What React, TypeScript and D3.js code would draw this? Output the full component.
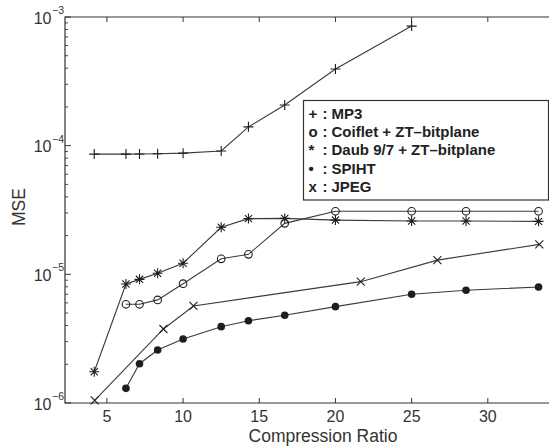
import React from "react";
import * as d3 from "d3";

const mp3X = [4.17, 6.25, 7.14, 8.33, 10, 12.5, 14.29, 16.67, 20, 25];
const mp3Y = [8.6e-5, 8.6e-5, 8.62e-5, 8.65e-5, 8.75e-5, 9.1e-5, 1.4e-4, 2.07e-4, 3.94e-4, 8.5e-4];

const coifX = [6.25, 7.14, 8.33, 10, 12.5, 14.29, 16.67, 20, 25, 28.57, 33.33];
const coifY = [5.85e-6, 5.85e-6, 6.33e-6, 8.46e-6, 1.32e-5, 1.43e-5, 2.49e-5, 3.09e-5, 3.09e-5, 3.09e-5, 3.09e-5];

const daubX = [4.17, 6.25, 7.14, 8.33, 10, 12.5, 14.29, 16.67, 20, 25, 28.57, 33.33];
const daubY = [1.75e-6, 8.41e-6, 9.14e-6, 1.02e-5, 1.22e-5, 2.32e-5, 2.71e-5, 2.72e-5, 2.64e-5, 2.6e-5, 2.6e-5, 2.58e-5];

const spihtX = [6.25, 7.14, 8.33, 10, 12.5, 14.29, 16.67, 20, 25, 28.57, 33.33];
const spihtY = [1.3e-6, 2.02e-6, 2.58e-6, 3.14e-6, 3.92e-6, 4.36e-6, 4.81e-6, 5.61e-6, 7.0e-6, 7.52e-6, 7.98e-6];

const jpegX = [4.2, 8.71, 10.68, 21.66, 26.69, 33.38];
const jpegY = [1.05e-6, 3.76e-6, 5.68e-6, 8.77e-6, 1.29e-5, 1.71e-5];

const xTicks = [5, 10, 15, 20, 25, 30];
const yDecades = [-6, -5, -4, -3];

const legendSymbols = ["+", "o", "*", "\u2022", "x"];
const legendLabels = ["MP3", "Coiflet + ZT\u2013bitplane", "Daub 9/7 + ZT\u2013bitplane", "SPIHT", "JPEG"];

const FONT = "'Liberation Sans', Arial, Helvetica, sans-serif";
const LINE = "#3a3a3a";
const MARK = "#1e1e1e";

const xs = d3.scaleLinear().domain([2.25, 35]).range([65, 564]);
const ys = d3.scaleLog().domain([1e-6, 1e-3]).range([403, 17]);

type Pt = [number, number];

function marker(kind: string, cx: number, cy: number, key: string) {
  const s = 5;
  if (kind === "+") {
    return (
      <path key={key} d={`M${cx - s},${cy}H${cx + s}M${cx},${cy - s}V${cy + s}`} stroke={MARK} strokeWidth={1.1} fill="none" />
    );
  }
  if (kind === "x") {
    const d = 4;
    return (
      <path key={key} d={`M${cx - d},${cy - d}L${cx + d},${cy + d}M${cx - d},${cy + d}L${cx + d},${cy - d}`} stroke={MARK} strokeWidth={1.1} fill="none" />
    );
  }
  if (kind === "*") {
    const d = 3.6;
    return (
      <path key={key} d={`M${cx - s},${cy}H${cx + s}M${cx},${cy - s}V${cy + s}M${cx - d},${cy - d}L${cx + d},${cy + d}M${cx - d},${cy + d}L${cx + d},${cy - d}`} stroke={MARK} strokeWidth={1.1} fill="none" />
    );
  }
  if (kind === "o") {
    return <circle key={key} cx={cx} cy={cy} r={3.8} stroke={MARK} strokeWidth={1.1} fill="none" />;
  }
  return <circle key={key} cx={cx} cy={cy} r={3.8} fill={MARK} />;
}

const series = [
  { xsv: mp3X, ysv: mp3Y, m: "+" },
  { xsv: coifX, ysv: coifY, m: "o" },
  { xsv: daubX, ysv: daubY, m: "*" },
  { xsv: spihtX, ysv: spihtY, m: "." },
  { xsv: jpegX, ysv: jpegY, m: "x" },
];

export default function App() {
  const line = d3
    .line<Pt>()
    .x((d) => xs(d[0]))
    .y((d) => ys(d[1]));

  const minor: number[] = [];
  for (let e = -6; e < -3; e++) {
    for (let k = 2; k <= 9; k++) minor.push(k * Math.pow(10, e));
  }

  const left = 65;
  const right = 549;
  const top = 17;
  const bottom = 403;

  return (
    <svg
      width={549}
      height={447}
      style={{ position: "absolute", left: 0, top: 0, background: "#fff" }}
      fontFamily={FONT}
    >
      <rect x={0} y={0} width={549} height={447} fill="#fff" />
      {/* axes frame */}
      <path d={`M${right},${top}H${left}V${bottom}H${right}`} fill="none" stroke="#333" strokeWidth={1.2} />
      {xTicks.map((t) => (
        <g key={"xt" + t}>
          <line x1={xs(t)} x2={xs(t)} y1={bottom} y2={bottom - 5} stroke="#333" />
          <line x1={xs(t)} x2={xs(t)} y1={top} y2={top + 5} stroke="#333" />
          <text x={xs(t)} y={421.5} textAnchor="middle" fontSize={16} fill="#333">
            {t}
          </text>
        </g>
      ))}
      {minor.map((v, i) => (
        <line key={"ym" + i} x1={left} x2={left + 3} y1={ys(v)} y2={ys(v)} stroke="#333" strokeWidth={0.9} />
      ))}
      {yDecades.map((e) => {
        const y = ys(Math.pow(10, e));
        return (
          <g key={"yd" + e}>
            <line x1={left} x2={left + 6} y1={y} y2={y} stroke="#333" />
            <text x={51.5} y={y + 6.5} textAnchor="end" fontSize={16} fill="#333">
              10
            </text>
            <text x={52} y={y - 3} textAnchor="start" fontSize={10.5} fill="#333">
              {"\u2212" + Math.abs(e)}
            </text>
          </g>
        );
      })}
      <text x={323} y={441.5} textAnchor="middle" fontSize={17.5} fill="#333">
        Compression Ratio
      </text>
      <text transform={`translate(25,207) rotate(-90)`} textAnchor="middle" fontSize={17.5} fill="#333">
        MSE
      </text>
      {/* series */}
      {series.map((s, si) => {
        const pts: Pt[] = s.xsv.map((x, i) => [x, s.ysv[i]]);
        return (
          <g key={"s" + si}>
            <path d={line(pts) || ""} fill="none" stroke={LINE} strokeWidth={1.1} />
            {pts.map((p, i) => marker(s.m, xs(p[0]), ys(p[1]), `m${si}-${i}`))}
          </g>
        );
      })}
      {/* legend */}
      <rect x={303.5} y={100.5} width={245} height={99.5} fill="#fff" stroke="#333" strokeWidth={1.2} />
      {legendLabels.map((lab, i) => {
        const by = 118.5 + i * 18.4;
        return (
          <g key={"lg" + i} fontWeight="bold" fontSize={15} fill="#222">
            <text x={308.5} y={by}>{legendSymbols[i]}</text>
            <text x={322.5} y={by}>:</text>
            <text x={331.5} y={by}>{lab}</text>
          </g>
        );
      })}
    </svg>
  );
}
